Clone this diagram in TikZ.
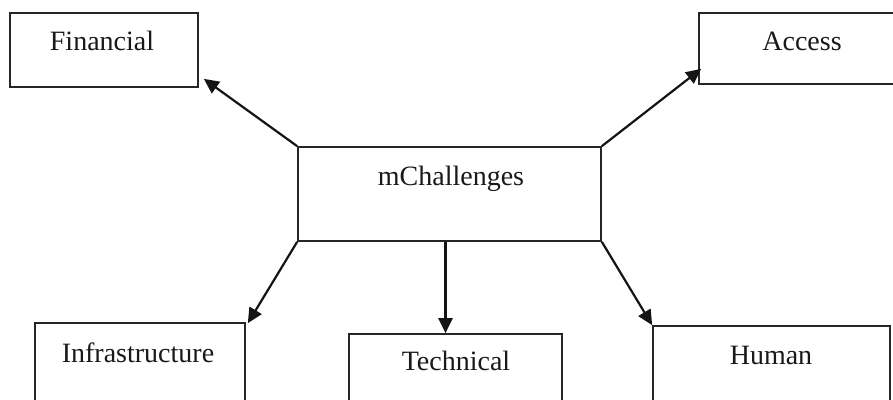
\documentclass[tikz,border=0pt]{standalone}
\usepackage{fontspec}
\setmainfont{Liberation Serif}
\usetikzlibrary{arrows.meta}
\begin{document}
\begin{tikzpicture}[x=1pt,y=-1pt,
  box/.style={draw=black!85,line width=1.7pt,rectangle,inner sep=0pt},
  lbl/.style={anchor=base,inner sep=0pt,font=\fontsize{28}{32}\selectfont,text=black!90},
  arr/.style={draw=black!92,line width=2.2pt,-{Triangle[length=15pt,width=14pt]}}]
\clip (0,0) rectangle (893,399);
\fill[white] (0,0) rectangle (893,399);

% central box
\node[box,minimum width=303pt,minimum height=94pt] (ctr) at (449.5,194) {};
\node[lbl] (ctrT) at (451,185) {mChallenges};

% surrounding boxes
\node[box,minimum width=188pt,minimum height=74pt] (fin) at (104,50) {};
\node[lbl] (finT) at (102,50) {Financial};

\node[box,minimum width=201pt,minimum height=71pt] (acc) at (799.5,48.5) {};
\node[lbl] (accT) at (802,50) {Access};

\node[box,minimum width=210pt,minimum height=97pt] (inf) at (140,371.5) {};
\node[lbl] (infT) at (138,362) {Infrastructure};

\node[box,minimum width=213pt,minimum height=86pt] (tec) at (455.5,377) {};
\node[lbl] (tecT) at (456,370) {Technical};

\node[box,minimum width=237pt,minimum height=94pt] (hum) at (771.5,373) {};
\node[lbl] (humT) at (771,364) {Human};

% connectors (y axis points down, so a negative shift moves up)
\draw[arr] (ctr.north west) -- ([shift={(5,-9)}]fin.south east);
\draw[arr] (ctr.north east) -- ([shift={(3,-16)}]acc.south west);
\draw[arr] (ctr.south west) -- ([shift={(2,1)}]inf.north east);
\draw[arr] ([xshift=-4pt]ctr.south) -- ([xshift=-4pt]ctr.south |- tec.north);
\draw[arr] (ctr.south east) -- ([shift={(0,0)}]hum.north west);
\end{tikzpicture}
\end{document}
